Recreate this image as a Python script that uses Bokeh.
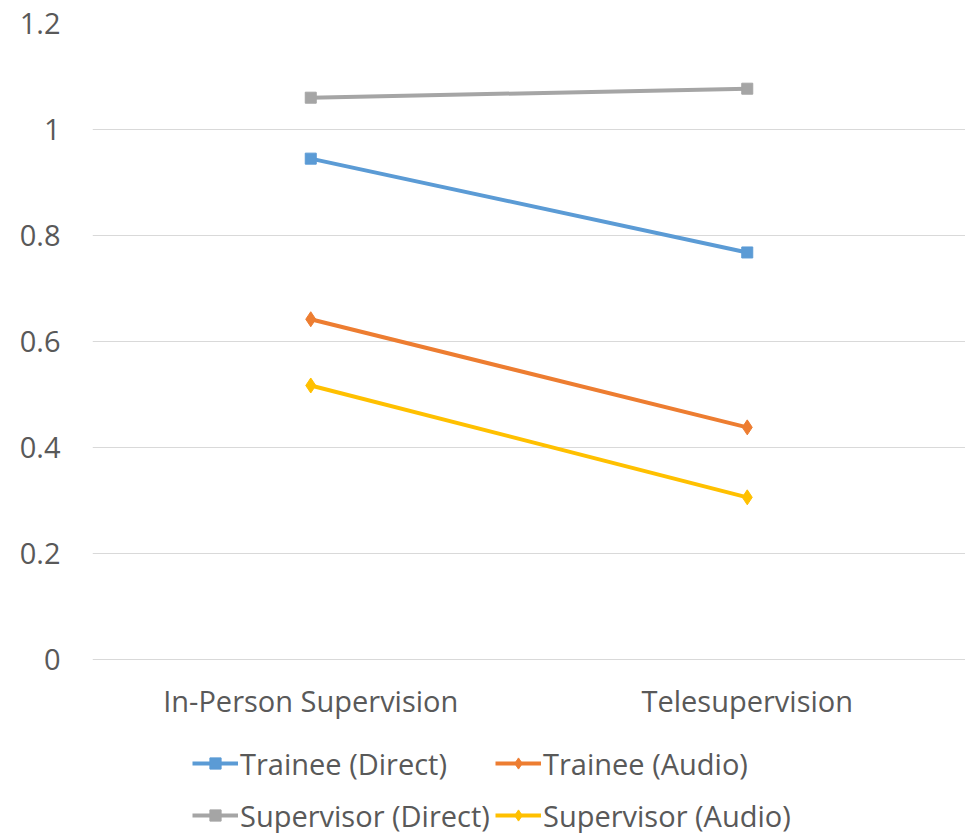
from bokeh.plotting import figure
from bokeh.models import Legend, LegendItem, FixedTicker, Range1d, ColumnDataSource
from bokeh.core.properties import value
from bokeh.embed import file_html
from bokeh.resources import INLINE

categories = ["In-Person Supervision", "Telesupervision"]
series_names = ["Trainee (Direct)", "Trainee (Audio)", "Supervisor (Direct)", "Supervisor (Audio)"]
trainee_direct = [0.945, 0.768]
trainee_audio = [0.642, 0.438]
supervisor_direct = [1.060, 1.077]
supervisor_audio = [0.517, 0.306]
y_ticks = [0, 0.2, 0.4, 0.6, 0.8, 1.0, 1.2]
y_tick_labels = {0: "0", 0.2: "0.2", 0.4: "0.4", 0.6: "0.6", 0.8: "0.8", 1.0: "1", 1.2: "1.2"}

colors = ["#5B9BD5", "#ED7D31", "#A5A5A5", "#FFC000"]
markers = ["square", "diamond", "square", "diamond"]
sizes = [11, 15, 11, 15]
FONT = "Open Sans"
FS = "29px"
TXT = "#595959"

# frame spans the whole height; value 0 sits 174 px above the bottom edge
p = figure(width=965, height=833, x_range=categories, y_range=Range1d(-0.3283, 1.2),
           x_axis_location=None, output_backend="svg", toolbar_location=None,
           min_border_left=92, min_border_right=0, min_border_top=23, min_border_bottom=0)
p.outline_line_color = None
p.xgrid.grid_line_color = None
p.ygrid.grid_line_color = "#D9D9D9"
p.ygrid.grid_line_width = 1
p.ygrid.ticker = FixedTicker(ticks=y_ticks)

p.yaxis.ticker = FixedTicker(ticks=y_ticks)
p.yaxis.major_label_overrides = y_tick_labels
ax = p.yaxis[0]
ax.axis_line_color = None
ax.major_tick_line_color = None
ax.minor_tick_line_color = None
ax.major_label_text_font = FONT
ax.major_label_text_font_size = FS
ax.major_label_text_color = TXT
ax.major_label_standoff = 26

# category labels under the value axis' zero line
cat_src = ColumnDataSource(dict(x=categories, y=[-0.077] * len(categories), t=categories))
p.text(x="x", y="y", text="t", source=cat_src, text_align="center", text_baseline="middle",
       text_font=value(FONT), text_font_size=FS, text_color=TXT)

renderers = {}
for name, vals, c, m, s in zip(series_names,
                               [trainee_direct, trainee_audio, supervisor_direct, supervisor_audio],
                               colors, markers, sizes):
    r1 = p.line(categories, vals, line_color=c, line_width=4)
    r2 = p.scatter(categories, vals, marker=m, size=s, fill_color=c, line_color=c)
    renderers[name] = [r1, r2]

# one legend entry per box, laid out as in the reference (2 x 2)
positions = {"Trainee (Direct)": (100, 50), "Trainee (Audio)": (403, 50),
             "Supervisor (Direct)": (100, -2), "Supervisor (Audio)": (403, -2)}
for name in series_names:
    lg = Legend(items=[LegendItem(label=name, renderers=renderers[name])],
                location=positions[name], padding=0, spacing=0,
                label_standoff=2, glyph_width=46, glyph_height=28, label_height=40,
                label_text_font=FONT, label_text_font_size=FS, label_text_color=TXT,
                background_fill_alpha=0, border_line_color=None, margin=0)
    p.add_layout(lg, "center")

open("out.html", "w").write(file_html(p, INLINE))
